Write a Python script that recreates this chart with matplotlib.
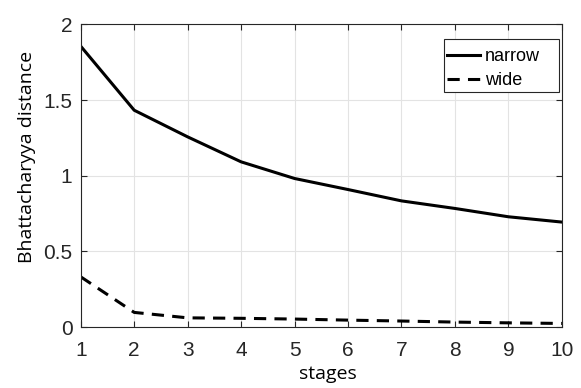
import matplotlib
matplotlib.use("Agg")
import matplotlib.pyplot as plt
from matplotlib.patches import Rectangle

stages = [1, 2, 3, 4, 5, 6, 7, 8, 9, 10]
narrow = [1.856, 1.433, 1.257, 1.092, 0.982, 0.909, 0.834, 0.784, 0.729, 0.694]
wide = [0.332, 0.097, 0.061, 0.058, 0.053, 0.046, 0.040, 0.033, 0.028, 0.024]
xticks = [1, 2, 3, 4, 5, 6, 7, 8, 9, 10]
yticks = [0, 0.5, 1, 1.5, 2]
yticklabels = ["0", "0.5", "1", "1.5", "2"]

W, H = 581, 388
fig = plt.figure(figsize=(W / 100, H / 100), dpi=100)
ax = fig.add_axes([0.139, 0.157, 0.828, 0.780])

dash = (0, (4, 2.7))
ax.plot(stages, narrow, color="black", lw=2.2, label="narrow")
ax.plot(stages, wide, color="black", lw=2.2, ls=dash, label="wide")

ax.set_xlim(1, 10)
ax.set_ylim(0, 2)
ax.set_xticks(xticks)
ax.set_yticks(yticks)
ax.set_yticklabels(yticklabels)
ax.grid(True, color="#e3e3e3", lw=0.8)
ax.set_axisbelow(True)
ax.tick_params(direction="in", top=True, right=True, length=4, width=0.8,
               color="#262626", labelsize=15)
ax.tick_params(axis="x", pad=10)
ax.tick_params(axis="y", pad=6)
for lab in ax.get_xticklabels() + ax.get_yticklabels():
    lab.set_fontfamily("Liberation Sans")
    lab.set_color("#262626")
for s in ax.spines.values():
    s.set_color("#262626")
    s.set_linewidth(0.8)

ax.set_xlabel("stages", fontsize=14, family="Open Sans")
ax.set_ylabel("Bhattacharyya distance", fontsize=14, family="Open Sans")
ax.xaxis.set_label_coords(0.514, -0.125)
ax.yaxis.set_label_coords(-0.093, 0.563)

# legend (frame drawn separately to mimic asymmetric padding)
def ax_x(px):
    return (px - 80.7) / 481.3

def ax_y(py):
    return (327.0 - py) / 302.7

leg = ax.legend(loc="center left", bbox_to_anchor=(ax_x(447), ax_y(68.5)),
                frameon=False, handlelength=1.85, handletextpad=0.25,
                prop={"family": "Liberation Sans", "size": 13},
                borderpad=0, borderaxespad=0, labelspacing=0.4)
frame = Rectangle((ax_x(444), ax_y(91.7)), ax_x(559.3) - ax_x(444),
                  ax_y(39.3) - ax_y(91.7), transform=ax.transAxes,
                  facecolor="white", edgecolor="#262626", lw=0.8, zorder=4.5)
ax.add_patch(frame)
leg.set_zorder(5)

fig.savefig("out.png", dpi=100)
